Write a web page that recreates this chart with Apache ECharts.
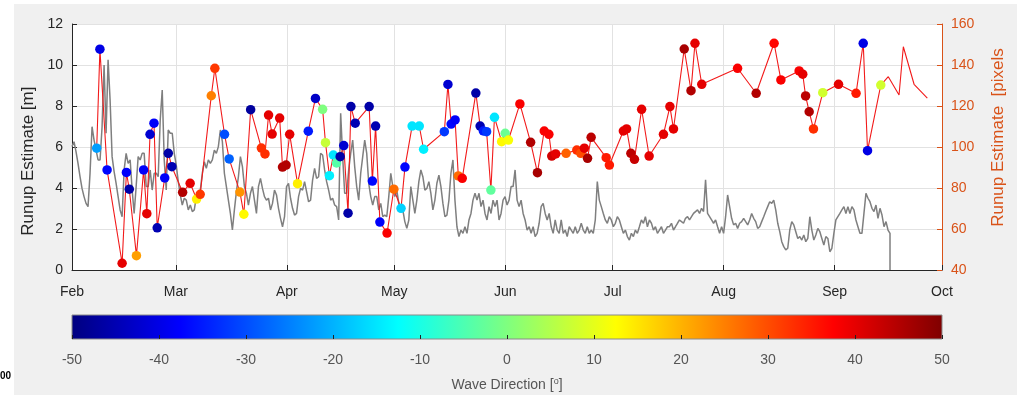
<!DOCTYPE html>
<html>
<head>
<meta charset="utf-8">
<script src="https://cdn.jsdelivr.net/npm/echarts@6/dist/echarts.min.js"></script>
<style>
html,body{margin:0;padding:0;background:#ffffff;}
#bg{position:absolute;left:14px;top:4px;width:1003px;height:391px;background:#f0f0f0;}
#c{position:absolute;left:0;top:0;width:1017px;height:395px;}
</style>
</head>
<body>
<div id="bg"></div>
<div id="c"></div>
<script>
// ---- x axis: days since 1 Feb 2016 ----
const monthLabels = ['Feb','Mar','Apr','May','Jun','Jul','Aug','Sep','Oct'];
const monthStartDays = [0, 29, 60, 90, 121, 151, 182, 213, 243];

// ---- gray series: runup estimate [m], sampled every grayStepDays ----
const grayStepDays = 0.56;
const grayValues = [
 6.02,6.26,5.77,5.20,4.55,3.98,3.58,3.25,3.09,4.72,
 6.99,6.34,5.85,5.37,5.37,6.99,10.0,6.67,10.25,8.29,
 5.53,4.80,4.23,3.58,2.93,2.60,4.88,5.69,5.20,5.37,
 3.90,2.76,4.07,5.53,5.37,5.69,5.69,4.07,4.07,4.88,
 3.90,4.72,4.72,4.55,7.32,8.78,5.37,3.90,6.83,6.67,
 6.67,5.69,5.12,4.31,3.66,3.17,3.50,3.41,2.93,3.17,
 2.85,2.93,3.58,3.50,3.90,4.72,5.28,4.96,5.37,5.20,
 5.37,5.85,5.69,6.02,6.83,6.26,4.72,4.07,3.41,2.76,
 1.95,2.93,3.82,4.55,5.53,5.04,4.07,3.74,3.17,3.74,
 4.07,3.41,2.76,4.07,4.47,3.98,3.58,3.41,3.50,2.93,
 3.25,3.90,3.66,3.01,2.52,2.11,2.60,4.07,4.23,3.50,
 3.01,2.68,2.76,3.58,3.98,3.90,4.31,3.82,3.33,3.41,
 4.39,4.96,4.47,4.55,5.69,5.61,4.88,4.31,3.90,3.41,
 3.50,3.17,3.09,2.44,7.64,
 5.53,3.74,3.74,4.88,5.69,6.34,5.04,4.07,3.41,4.72,
 5.53,6.34,5.69,4.23,3.58,3.17,3.58,3.58,2.93,3.25,
 2.60,2.68,2.60,3.58,4.72,4.07,3.58,3.90,3.25,2.85,
 2.93,2.36,2.03,2.44,4.07,3.41,2.76,3.41,4.31,4.88,
 4.55,3.90,3.98,4.31,3.74,2.93,3.41,4.23,4.63,4.07,
 3.25,2.60,2.68,3.41,4.72,5.37,3.41,2.11,1.63,1.95,
 1.79,2.11,1.79,2.44,2.76,3.41,3.74,3.41,3.74,3.09,
 3.41,2.76,2.44,3.09,2.76,3.41,3.09,3.41,2.44,2.76,
 3.41,3.58,3.17,3.41,4.07,4.07,4.88,3.41,3.09,3.41,
 2.76,2.44,1.95,2.11,1.79,2.11,1.63,1.79,2.28,3.09,
 3.25,2.76,2.44,2.76,2.11,1.79,2.44,1.95,1.79,2.44,
 1.79,1.95,1.63,2.11,1.95,1.79,2.11,1.79,1.95,2.28,
 1.95,1.79,2.11,1.79,1.95,1.79,2.44,4.31,3.41,3.09,
 2.76,2.44,2.28,2.60,2.44,2.11,2.28,2.60,2.44,2.11,
 1.79,1.95,1.63,1.46,1.79,1.63,1.95,1.79,2.11,2.44,
 2.28,2.60,2.11,2.44,2.28,1.95,2.11,1.79,1.95,2.11,
 1.79,1.95,2.11,2.11,2.28,
 1.95,2.11,2.28,2.44,2.36,2.28,2.52,2.60,2.44,2.60,
 2.76,2.85,2.93,2.76,3.01,2.85,4.40,2.76,2.60,2.44,
 2.28,2.44,2.11,1.79,2.11,1.79,2.60,3.66,3.09,2.52,
 2.20,2.28,2.03,2.28,2.36,2.52,2.36,2.20,2.44,2.76,
 2.52,2.36,2.03,2.11,2.36,2.60,2.85,3.09,3.33,3.25,
 3.41,2.93,2.28,1.87,1.38,1.14,0.98,1.06,1.95,2.36,
 2.20,1.87,1.54,1.63,1.46,1.71,1.38,1.54,2.60,1.95,
 1.46,1.71,2.03,1.87,1.54,1.22,1.63,1.54,0.89,1.06,
 1.79,2.44,2.60,2.76,2.93,3.09,2.76,3.09,2.76,3.09,
 2.93,2.44,2.11,1.79,1.79,2.76,3.74,3.50,3.33,3.01,
 2.85,3.17,2.52,3.01,2.68,2.11,2.36,1.95,1.79
];

// ---- red series: runup estimate [pixels], with wave direction [deg] (null = no marker) ----
const redDays = [6.9,7.8,9.8,14.0,15.2,16.0,18.0,20.0,20.9,21.8,
 22.9,23.8,25.9,26.9,27.9,30.9,33.0,34.8,35.8,38.9,
 39.9,42.6,43.9,46.9,48.0,49.9,52.9,53.9,54.9,55.9,
 58.0,58.8,59.8,60.8,63.0,66.0,68.0,70.0,70.8,71.9,
 73.0,73.9,74.9,75.9,77.1,77.9,79.1,83.0,83.9,84.8,
 86.0,88.0,89.9,91.9,93.0,95.0,97.0,98.2,104.0,105.0,
 105.9,107.0,107.9,109.0,112.8,114.0,114.9,115.8,117.0,118.0,
 120.0,121.0,121.9,125.1,128.1,130.0,131.9,133.2,134.0,135.1,
 138.0,141.0,142.1,143.1,144.0,145.0,149.2,150.1,154.0,154.9,
 156.1,157.1,159.1,161.2,165.2,167.0,168.0,171.0,172.9,174.0,
 175.9,185.9,191.1,196.1,198.0,203.1,204.1,204.9,205.9,207.1,
 209.7,214.1,219.0,221.0,222.2,225.9,228.0,231.0,232.2,235.2,238.9];
const redPixels = [99.4,147.7,88.8,43.3,87.6,79.4,47.0,88.8,67.5,106.2,
 111.6,60.6,84.9,96.9,90.4,77.9,82.3,74.6,76.9,125.0,
 138.4,106.2,94.2,78.0,67.2,118.2,99.5,96.6,115.6,106.3,
 114.1,90.2,91.2,106.2,82.1,107.7,123.7,118.4,102.1,86.0,
 96.1,92.2,95.3,100.7,67.7,119.7,111.6,119.7,83.4,110.2,
 63.4,58.0,79.4,70.1,90.2,110.2,110.2,98.9,107.5,130.5,
 111.2,113.2,85.9,84.7,126.3,110.2,107.8,107.5,79.0,114.5,
 102.6,106.7,103.4,121.0,102.3,87.5,107.8,106.2,95.6,96.6,
 96.9,98.5,96.9,99.4,94.5,104.7,94.8,91.2,107.8,108.8,
 96.9,94.0,118.4,95.6,106.2,119.7,108.8,147.8,127.5,150.6,
 130.6,138.4,126.2,150.6,132.7,137.1,135.5,124.9,117.2,108.8,
 126.5,130.6,126.2,150.6,98.2,130.2,134.3,125.4,148.9,130.6,123.8];
const redDirections = [-22,-40,-37,40,-38,-46,22,-38,40,-42,
 -38,-45,-38,-46,-45,45,40,14,32,25,
 32,-30,-28,23,13,-47,33,33,40,40,
 40,45,45,40,14,-35,-43,0,7,-14,
 -15,-4,-46,-42,-46,-46,-45,-46,-37,-45,
 -38,38,27,-17,-37,-15,-15,-14,-32,-42,
 -37,-38,27,38,-46,-45,-35,-32,-3,-15,
 13,-2,12,38,45,46,38,38,42,40,
 28,33,30,40,46,44,35,35,40,40,
 44,43,40,40,40,40,40,46,45,40,
 40,38,45,37,38,38,40,44,45,33,
 8,40,35,-40,-40,8,null,null,null,null,null];

// ---- colorbar ----
const colorbarTicks = [-50,-40,-30,-20,-10,0,10,20,30,40,50];
const jet = ['#00007F','#0000FF','#007FFF','#00FFFF','#7FFF7F','#FFFF00','#FF7F00','#FF0000','#7F0000'];

const FONT = '"Liberation Sans", Arial, Helvetica, sans-serif';
const ORANGE = '#D95319';
const DARK = '#262626';

const grayData = grayValues.map((v, i) => [i * grayStepDays, v]);
grayData.push([(grayValues.length - 1) * grayStepDays, 0]);
const redLine = redDays.map((d, i) => [d, redPixels[i]]);
const markers = [];
redDays.forEach((d, i) => { if (redDirections[i] !== null) markers.push([d, redPixels[i], redDirections[i]]); });

const chart = echarts.init(document.getElementById('c'), null, {renderer: 'canvas'});
chart.setOption({
  animation: false,
  backgroundColor: 'transparent',
  textStyle: {fontFamily: FONT},
  grid: [
    {left: 72, right: 75, top: 24, bottom: 125, show: true, backgroundColor: '#ffffff', borderWidth: 0},
    {left: 72, right: 75, top: 315, height: 24, show: true,
     backgroundColor: {type: 'linear', x: 0, y: 0, x2: 1, y2: 0,
       colorStops: jet.map((c, i) => ({offset: i / (jet.length - 1), color: c}))},
     borderColor: '#8a8a8a', borderWidth: 1}
  ],
  xAxis: [
    {type: 'value', gridIndex: 0, min: 0, max: 243,
     axisLine: {show: true, onZero: false, lineStyle: {color: DARK}},
     axisTick: {show: true, inside: true, length: 5, customValues: monthStartDays, lineStyle: {color: DARK}},
     axisLabel: {customValues: monthStartDays, formatter: v => monthLabels[monthStartDays.indexOf(v)] || '',
                 color: DARK, fontSize: 14, margin: 15, fontFamily: FONT},
     splitLine: {show: true, lineStyle: {color: '#e2e2e2'}}},
    {type: 'value', gridIndex: 1, min: -50, max: 50, interval: 10,
     axisLine: {show: false},
     axisTick: {show: true, inside: true, length: 4, lineStyle: {color: '#222'}},
     axisLabel: {customValues: colorbarTicks, color: '#555', fontSize: 14, margin: 14, fontFamily: FONT},
     splitLine: {show: false},
     name: 'Wave Direction [{s|o}]', nameLocation: 'middle', nameGap: 38,
     nameTextStyle: {color: '#555', fontSize: 14, fontFamily: FONT,
       rich: {s: {fontSize: 9, color: '#555', padding: [0, 0, 8, 0], fontFamily: FONT}}}}
  ],
  yAxis: [
    {type: 'value', gridIndex: 0, min: 0, max: 12, interval: 2, position: 'left',
     axisLine: {show: true, lineStyle: {color: DARK}},
     axisTick: {show: true, inside: true, length: 5, lineStyle: {color: DARK}},
     axisLabel: {color: DARK, fontSize: 14, margin: 9, fontFamily: FONT},
     splitLine: {show: true, lineStyle: {color: '#e2e2e2'}},
     name: 'Runup Estimate [m]      ', nameLocation: 'middle', nameGap: 34,
     nameTextStyle: {color: DARK, fontSize: 17, fontFamily: FONT}},
    {type: 'value', gridIndex: 0, min: 40, max: 160, interval: 20, position: 'right',
     axisLine: {show: true, lineStyle: {color: ORANGE}},
     axisTick: {show: true, inside: true, length: 5, lineStyle: {color: ORANGE}},
     axisLabel: {color: ORANGE, fontSize: 14, margin: 9, fontFamily: FONT},
     splitLine: {show: false},
     name: '    Runup Estimate  [pixels', nameLocation: 'middle', nameGap: 48,
     nameTextStyle: {color: ORANGE, fontSize: 17, fontFamily: FONT}},
    {type: 'value', gridIndex: 1, min: 0, max: 1, show: false}
  ],
  visualMap: {type: 'continuous', show: false, min: -50, max: 50, dimension: 2, seriesIndex: 2,
              inRange: {color: jet}},
  series: [
    {type: 'line', xAxisIndex: 0, yAxisIndex: 0, data: grayData, symbol: 'none',
     lineStyle: {color: '#7f7f7f', width: 1.5}, z: 1, silent: true},
    {type: 'line', xAxisIndex: 0, yAxisIndex: 1, data: redLine, symbol: 'none',
     lineStyle: {color: '#f21a1a', width: 1.1}, z: 2, silent: true},
    {type: 'scatter', xAxisIndex: 0, yAxisIndex: 1, data: markers, symbolSize: 9.5, z: 3, silent: true,
     itemStyle: {opacity: 1}}
  ],
  graphic: [
    {type: 'text', left: 0, top: 371, style: {text: '00', font: 'bold 10px ' + FONT, fill: '#000'}}
  ]
});
</script>
</body>
</html>
